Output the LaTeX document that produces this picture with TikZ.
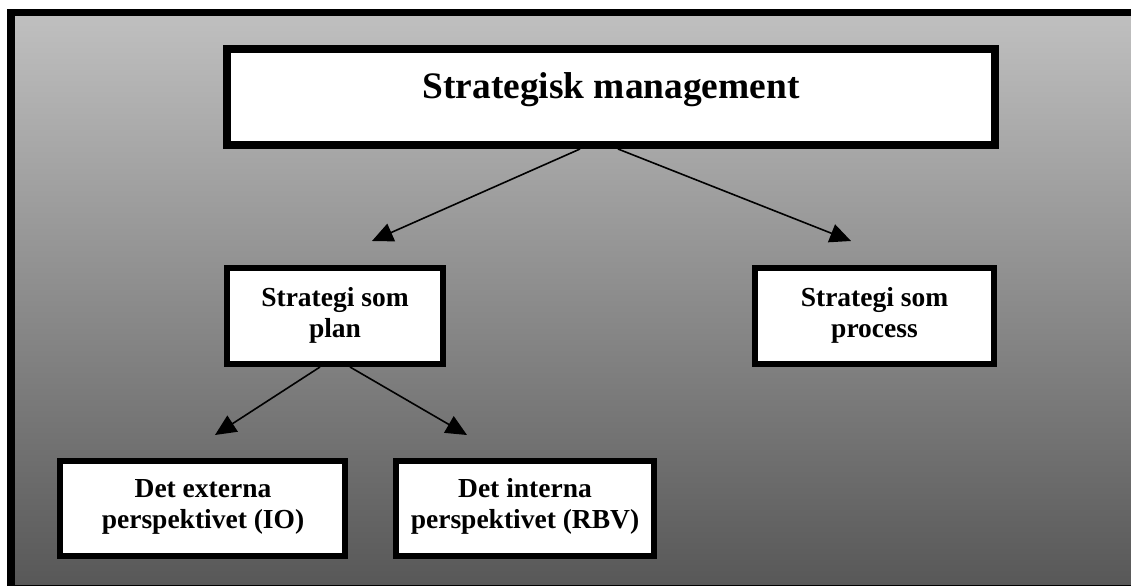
\documentclass[tikz,border=0pt]{standalone}
\usepackage{fontspec}
\setmainfont{Liberation Serif}
\usetikzlibrary{arrows.meta}
\definecolor{bgtop}{RGB}{191,191,191}
\definecolor{bgbot}{RGB}{88,88,88}
\begin{document}
\begin{tikzpicture}[x=1pt,y=-1pt,
  bigbox/.style={draw=black,fill=white,line width=8pt,inner sep=0pt,minimum width=768pt,minimum height=96pt},
  smallbox/.style={draw=black,fill=white,line width=6pt,inner sep=0pt,minimum height=96pt},
  titletext/.style={font=\fontsize{37.4pt}{40pt}\selectfont\bfseries,inner sep=0pt,anchor=base},
  boxtext/.style={font=\fontsize{27.5pt}{30.5pt}\selectfont\bfseries,inner sep=0pt,anchor=base,align=center},
  arr/.style={line width=1.6pt,-{Triangle[length=21pt,width=19pt]}}]
\useasboundingbox (0,0) rectangle (1131,586);
\fill[white] (0,0) rectangle (1131,586);
\fill[black] (7,9) rectangle (1131,586);
\shade[top color=bgtop,bottom color=bgbot] (15,17) rectangle (1131,584);

\node[bigbox] (main) at (611,97) {};
\node[titletext] (maint) at (611,98) {Strategisk management};

\node[smallbox,minimum width=216pt] (plan) at (335,316) {};
\node[boxtext] (plant) at (335,337) {Strategi som\\plan};

\node[smallbox,minimum width=239pt] (proc) at (874.5,316) {};
\node[boxtext] (proct) at (874.5,337) {Strategi som\\process};

\node[smallbox,minimum width=285pt,minimum height=95pt] (ext) at (202.5,508.5) {};
\node[boxtext] (extt) at (203,528) {Det externa\\perspektivet (IO)};

\node[smallbox,minimum width=258pt,minimum height=95pt] (int) at (525,508.5) {};
\node[boxtext] (intt) at (525,528) {Det interna\\perspektivet (RBV)};

\coordinate (t1) at (372,241);
\coordinate (t2) at (851,241);
\coordinate (t3) at (215,435);
\coordinate (t4) at (467,435);

\draw[arr] ([xshift=-31pt]main.south) -- (t1);
\draw[arr] ([xshift=7pt]main.south) -- (t2);
\draw[arr] ([xshift=-15pt]plan.south) -- (t3);
\draw[arr] ([xshift=15pt]plan.south) -- (t4);
\end{tikzpicture}
\end{document}
